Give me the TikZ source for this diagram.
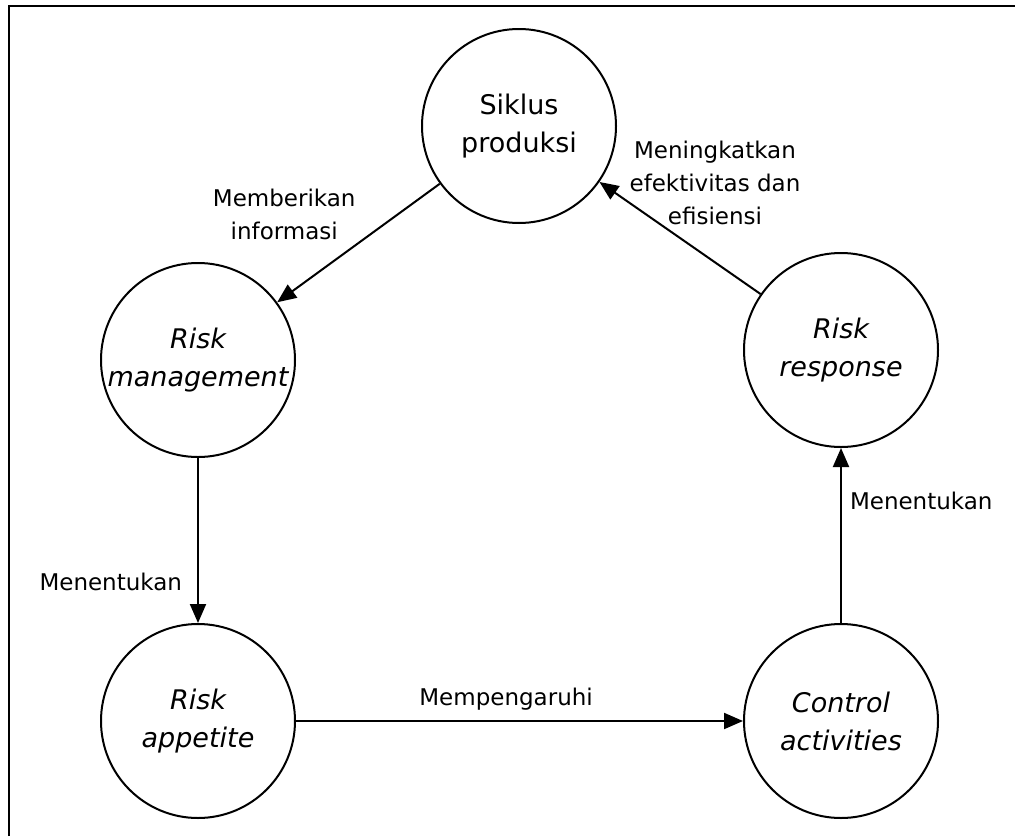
\documentclass[tikz,border=0pt]{standalone}
\usepackage{fontspec}
\setmainfont{DejaVu Sans}
\usetikzlibrary{arrows.meta, positioning}

\begin{document}
\begin{tikzpicture}[x=1pt, y=-1pt,
  stage/.style={circle, draw, line width=2pt, minimum size=194pt, inner sep=0pt,
                align=center, font=\fontsize{27}{38}\selectfont},
  riskstage/.style={stage, font=\fontsize{27}{38}\selectfont\itshape},
  arr/.style={-{Triangle[length=19pt, width=16pt]}, line width=2pt},
  lbl/.style={align=center, inner sep=2pt, font=\fontsize{23}{33}\selectfont},
]
\useasboundingbox (0,0) rectangle (1015,836);
\draw[line width=2pt] (9,836) -- (9,6) -- (1015,6);

\node[stage] (siklus) at (519,126) {Siklus\\produksi};
\node[riskstage] (rmgmt) at (198,360) {Risk\\management};
\node[riskstage] (rresp) at (841,350) {Risk\\response};
\node[riskstage] (rapp) at (198,721) {Risk\\appetite};
\node[riskstage] (ctrl) at (841,721) {Control\\activities};

\draw[arr] (siklus) -- (rmgmt) node[lbl, midway, anchor=south east] {Memberikan\\informasi};
\draw[arr] (rmgmt) -- (rapp) node[lbl, pos=0.75, left=13pt] {Menentukan};
\draw[arr] (rapp) -- (ctrl) node[lbl, pos=0.47, above=8pt] {Mempengaruhi};
\draw[arr] (ctrl) -- (rresp) node[lbl, pos=0.7, right=6pt] {Menentukan};
\draw[arr] (rresp) -- (siklus) node[lbl, midway, xshift=35pt, yshift=55pt] {Meningkatkan\\efektivitas dan\\efisiensi};
\end{tikzpicture}
\end{document}
